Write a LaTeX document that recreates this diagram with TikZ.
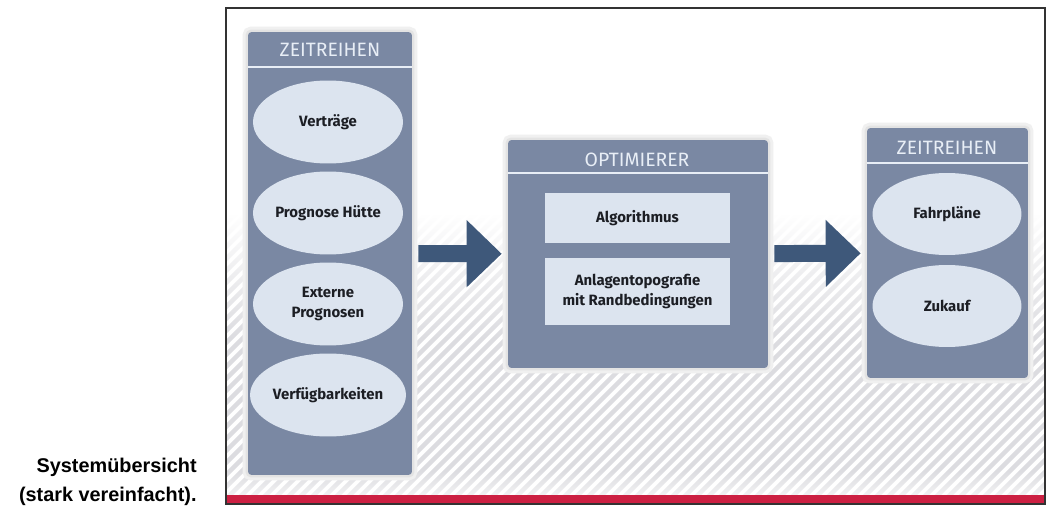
\documentclass[tikz,border=0pt]{standalone}
\usepackage{fontspec}
\setmainfont{Liberation Sans}
\newfontfamily\labfont{Fira Sans}
\usetikzlibrary{shapes.geometric,arrows.meta,fadings}

\definecolor{panelgray}{RGB}{122,136,163}
\definecolor{ovalfill}{RGB}{220,228,239}
\definecolor{headwhite}{RGB}{232,238,246}
\definecolor{flowblue}{RGB}{62,88,122}
\definecolor{barred}{RGB}{204,32,66}
\definecolor{stripegray}{RGB}{220,220,224}
\definecolor{labdark}{RGB}{28,30,36}

\tikzset{
  panel/.style={fill=panelgray, rounded corners=2pt, inner sep=0pt,
    preaction={draw=black!6, line width=0.22cm},
    preaction={draw=black!11, line width=0.1cm}},
  headtext/.style={inner sep=0pt, text=headwhite, font=\labfont\fontsize{11}{12}\selectfont},
  sepline/.style={draw=headwhite, line width=0.04cm},
  oval/.style={ellipse, fill=ovalfill, inner sep=0pt, minimum width=3cm, minimum height=1.66cm,
    align=center, text=labdark, font=\labfont\bfseries\fontsize{8.5}{11.3}\selectfont},
  slot/.style={fill=ovalfill, inner sep=0pt, minimum width=3.7cm, align=center,
    text=labdark, font=\labfont\bfseries\fontsize{8.5}{11.3}\selectfont},
  flow/.style={draw=flowblue, line width=0.34cm, -{Triangle[length=0.7cm,width=1.3cm]},
    shorten <=0.12cm, shorten >=0.12cm},
  stripe/.style={draw=stripegray, line width=0.09cm},
  caption/.style={inner sep=0pt, anchor=base east, font=\bfseries\fontsize{11.3}{13}\selectfont}
}

\begin{document}
\begin{tikzpicture}[x=0.02cm,y=-0.02cm]
\useasboundingbox (0,0) rectangle (1046,507);

% frame with hatched floor
\fill[white] (226,8) rectangle (1045,504);
\begin{scope}
\clip (227,215) rectangle (1044,496);
\foreach \i in {-290,-278,...,830}
  \draw[stripe] (227+\i,500) -- ++(290,-290);
\end{scope}
\fill[white, path fading=south] (227,214) rectangle (1044,340);
\fill[white, opacity=0.6, path fading=north] (227,470) rectangle (1044,495);
\fill[barred] (226,495) rectangle (1045,504);
\draw[black!80, line width=0.03cm] (226,8) rectangle (1045,504);

% left column
\node[panel, minimum width=3.28cm, minimum height=8.86cm] (zl) at (330,253.5) {};
\node[headtext] (zlhead) at (330,50) {ZEITREIHEN};
\coordinate (zlsep) at (330,67);
\draw[sepline] (zlsep -| zl.west) -- (zlsep -| zl.east);
\node[oval] (vtr) at (328,122) {Verträge};
\node[oval] (prh) at (328,213) {Prognose Hütte};
\node[oval] (exp) at (328,304) {Externe\\Prognosen};
\node[oval] (vfb) at (328,395) {Verfügbarkeiten};

% optimizer
\node[panel, minimum width=5.2cm, minimum height=4.56cm] (opt) at (638,254) {};
\node[headtext] (opthead) at (637,160) {OPTIMIERER};
\coordinate (optsep) at (638,173);
\draw[sepline] (optsep -| opt.west) -- (optsep -| opt.east);
\node[slot, minimum height=1cm] (alg) at (637.5,218) {Algorithmus};
\node[slot, minimum height=1.34cm] (anl) at (637.5,291.5) {Anlagentopografie\\mit Randbedingungen};

% right column
\node[panel, minimum width=3.22cm, minimum height=5cm] (zr) at (947.5,253) {};
\node[headtext] (zrhead) at (947,148) {ZEITREIHEN};
\coordinate (zrsep) at (947,163);
\draw[sepline] (zrsep -| zr.west) -- (zrsep -| zr.east);
\node[oval, minimum width=2.98cm, minimum height=1.64cm] (fpl) at (947,214) {Fahrpläne};
\node[oval, minimum width=2.98cm, minimum height=1.64cm] (zkf) at (947,306) {Zukauf};

% flow
\draw[flow] (zl) -- (opt);
\draw[flow] (opt) -- (zr);

% caption
\node[caption] (cap1) at (197,472) {Systemübersicht};
\node[caption] (cap2) at (197,501) {(stark vereinfacht).};
\end{tikzpicture}
\end{document}
